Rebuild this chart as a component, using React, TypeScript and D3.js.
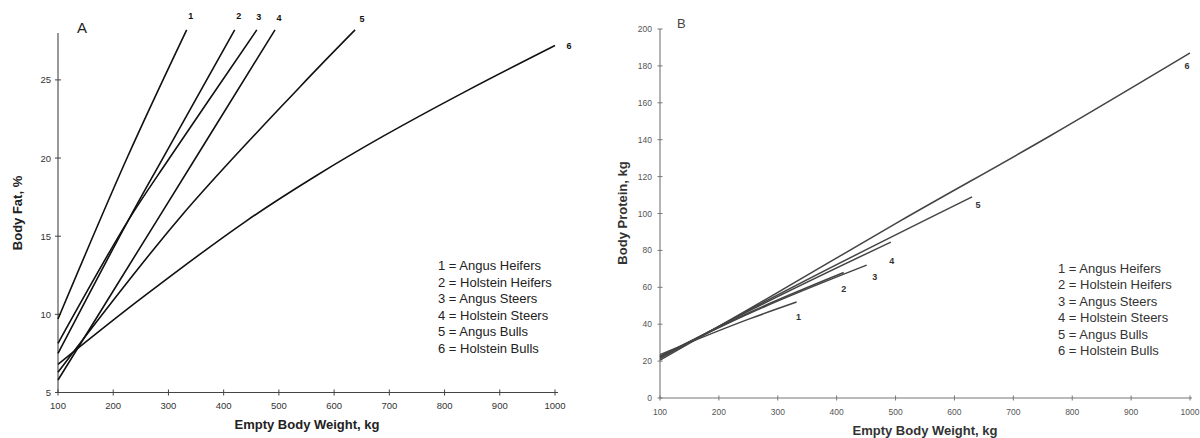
import React from "react";
import * as d3 from "d3";

// ---------- DATA ----------
const xTickValues = [100, 200, 300, 400, 500, 600, 700, 800, 900, 1000];
const yTicksFat = [5, 10, 15, 20, 25];
const yTicksProtein = [0, 20, 40, 60, 80, 100, 120, 140, 160, 180, 200];

const legendLabels = [
  "1 = Angus Heifers",
  "2 = Holstein Heifers",
  "3 = Angus Steers",
  "4 = Holstein Steers",
  "5 = Angus Bulls",
  "6 = Holstein Bulls",
];

// Panel A: body fat (%) vs empty body weight (kg)
const fat1: [number, number][] = [[100, 9.7], [225, 20], [333, 28.2]];
const fat2: [number, number][] = [[100, 7.5], [227, 16], [290, 20], [420, 28.2]];
const fat3: [number, number][] = [[100, 8.15], [227, 16], [302, 20], [460, 28.2]];
const fat4: [number, number][] = [[100, 5.8], [279, 16], [493, 28.2]];
const fat5: [number, number][] = [[100, 6.3], [321, 16.2], [538, 24.55], [638, 28.2]];
const fat6: [number, number][] = [[100, 6.8], [250, 11.0], [442, 16.0], [569, 18.9], [689, 21.4], [840, 24.3], [1000, 27.2]];
const fatSeries = [fat1, fat2, fat3, fat4, fat5, fat6];

// Panel B: body protein (kg) vs empty body weight (kg)
const prot1: [number, number][] = [[100, 23.5], [253, 43], [332, 52]];
const prot2: [number, number][] = [[100, 22.5], [253, 46.5], [412, 68]];
const prot3: [number, number][] = [[100, 22.5], [253, 46], [451, 72]];
const prot4: [number, number][] = [[100, 22], [253, 47.5], [492, 84.5]];
const prot5: [number, number][] = [[100, 21.5], [253, 48], [630, 109]];
const prot6: [number, number][] = [[100, 20.5], [253, 48.5], [508, 96], [762, 142], [1000, 187]];
const protSeries = [prot1, prot2, prot3, prot4, prot5, prot6];

// ---------- LAYOUT ----------
const xA = d3.scaleLinear().domain([100, 1000]).range([58, 555]);
const yA = d3.scaleLinear().domain([5, 28]).range([392.5, 33]);
const xB = d3.scaleLinear().domain([100, 1000]).range([660, 1190]);
const yB = d3.scaleLinear().domain([0, 200]).range([398, 29]);

// label offsets relative to series end point
const labelOffA: [number, number][] = [[4, -11], [4, -11], [2, -10], [4, -9], [7, -8], [14, 3]];
const labelOffB: [number, number][] = [[2, 18], [0, 19], [8, 15], [1, 22], [6, 11], [-3, 16]];

const FONT = "Liberation Sans, Arial, Helvetica, sans-serif";

export default function App() {
  const lineA = d3
    .line<[number, number]>()
    .x((d) => xA(d[0]))
    .y((d) => yA(d[1]))
    .curve(d3.curveCatmullRom.alpha(0.5));
  const lineB = d3
    .line<[number, number]>()
    .x((d) => xB(d[0]))
    .y((d) => yB(d[1]))
    .curve(d3.curveMonotoneX);

  const axA = "#444";
  const axB = "#777";

  return (
    <svg
      width={1200}
      height={438}
      style={{ position: "absolute", left: 0, top: 0, display: "block", background: "#fff" }}
      fontFamily={FONT}
    >
      {/* ================= PANEL A ================= */}
      <g>
        <line x1={xA(100)} x2={xA(1000) + 3} y1={yA(5)} y2={yA(5)} stroke={axA} strokeWidth={1.1} />
        <line x1={xA(100)} x2={xA(100)} y1={yA(5)} y2={yA(28)} stroke={axA} strokeWidth={1.1} />
        {xTickValues.map((t) => (
          <g key={"xa" + t}>
            <line x1={xA(t)} x2={xA(t)} y1={yA(5) - 3} y2={yA(5) + 3} stroke={axA} strokeWidth={1} />
            <text x={xA(t)} y={yA(5) + 16} fontSize={9.5} textAnchor="middle" fill="#333">
              {t}
            </text>
          </g>
        ))}
        {yTicksFat.map((t) => (
          <g key={"ya" + t}>
            <line x1={xA(100) - 3} x2={xA(100) + 3} y1={yA(t)} y2={yA(t)} stroke={axA} strokeWidth={1} />
            <text x={xA(100) - 7} y={yA(t) + 3.5} fontSize={9.5} textAnchor="end" fill="#333">
              {t}
            </text>
          </g>
        ))}
        <text x={xA(100) + 19} y={33} fontSize={15} fill="#222">
          A
        </text>
        <text x={307} y={429} fontSize={13} fontWeight="bold" textAnchor="middle" fill="#222">
          Empty Body Weight, kg
        </text>
        <text
          transform={`translate(22,213) rotate(-90)`}
          fontSize={13}
          fontWeight="bold"
          textAnchor="middle"
          fill="#222"
        >
          Body Fat, %
        </text>
        {fatSeries.map((s, i) => (
          <path key={"fa" + i} d={lineA(s) || ""} fill="none" stroke="#111" strokeWidth={1.6} />
        ))}
        {fatSeries.map((s, i) => {
          const e = s[s.length - 1];
          return (
            <text
              key={"fl" + i}
              x={xA(e[0]) + labelOffA[i][0]}
              y={yA(e[1]) + labelOffA[i][1]}
              fontSize={9}
              fontWeight="bold"
              textAnchor="middle"
              fill="#111"
            >
              {i + 1}
            </text>
          );
        })}
        {legendLabels.map((l, i) => (
          <text key={"lga" + i} x={438} y={270 + i * 16.6} fontSize={13} fill="#222">
            {l}
          </text>
        ))}
      </g>

      {/* ================= PANEL B ================= */}
      <g>
        <line x1={xB(100)} x2={xB(1000) + 2} y1={yB(0)} y2={yB(0)} stroke={axB} strokeWidth={1.1} />
        <line x1={xB(100)} x2={xB(100)} y1={yB(0)} y2={yB(200)} stroke={axB} strokeWidth={1.1} />
        {xTickValues.map((t) => (
          <g key={"xb" + t}>
            <line x1={xB(t)} x2={xB(t)} y1={yB(0) - 2.5} y2={yB(0) + 2.5} stroke={axB} strokeWidth={1} />
            <text x={xB(t)} y={yB(0) + 17} fontSize={8.5} textAnchor="middle" fill="#555">
              {t}
            </text>
          </g>
        ))}
        {yTicksProtein.map((t) => (
          <g key={"yb" + t}>
            <line x1={xB(100) - 2.5} x2={xB(100) + 2.5} y1={yB(t)} y2={yB(t)} stroke={axB} strokeWidth={1} />
            <text x={xB(100) - 8} y={yB(t) + 3} fontSize={8.5} textAnchor="end" fill="#555">
              {t}
            </text>
          </g>
        ))}
        <text x={xB(100) + 17} y={28} fontSize={13} fill="#444">
          B
        </text>
        <text x={925} y={435} fontSize={13} fontWeight="bold" textAnchor="middle" fill="#333">
          Empty Body Weight, kg
        </text>
        <text
          transform={`translate(627,213) rotate(-90)`}
          fontSize={13}
          fontWeight="bold"
          textAnchor="middle"
          fill="#333"
        >
          Body Protein, kg
        </text>
        {protSeries.map((s, i) => (
          <path key={"pb" + i} d={lineB(s) || ""} fill="none" stroke="#444" strokeWidth={1.5} />
        ))}
        {protSeries.map((s, i) => {
          const e = s[s.length - 1];
          return (
            <text
              key={"pl" + i}
              x={xB(e[0]) + labelOffB[i][0]}
              y={yB(e[1]) + labelOffB[i][1]}
              fontSize={9}
              fontWeight="bold"
              textAnchor="middle"
              fill="#333"
            >
              {i + 1}
            </text>
          );
        })}
        {legendLabels.map((l, i) => (
          <text key={"lgb" + i} x={1058} y={273 + i * 16.4} fontSize={13} fill="#333">
            {l}
          </text>
        ))}
      </g>
    </svg>
  );
}
